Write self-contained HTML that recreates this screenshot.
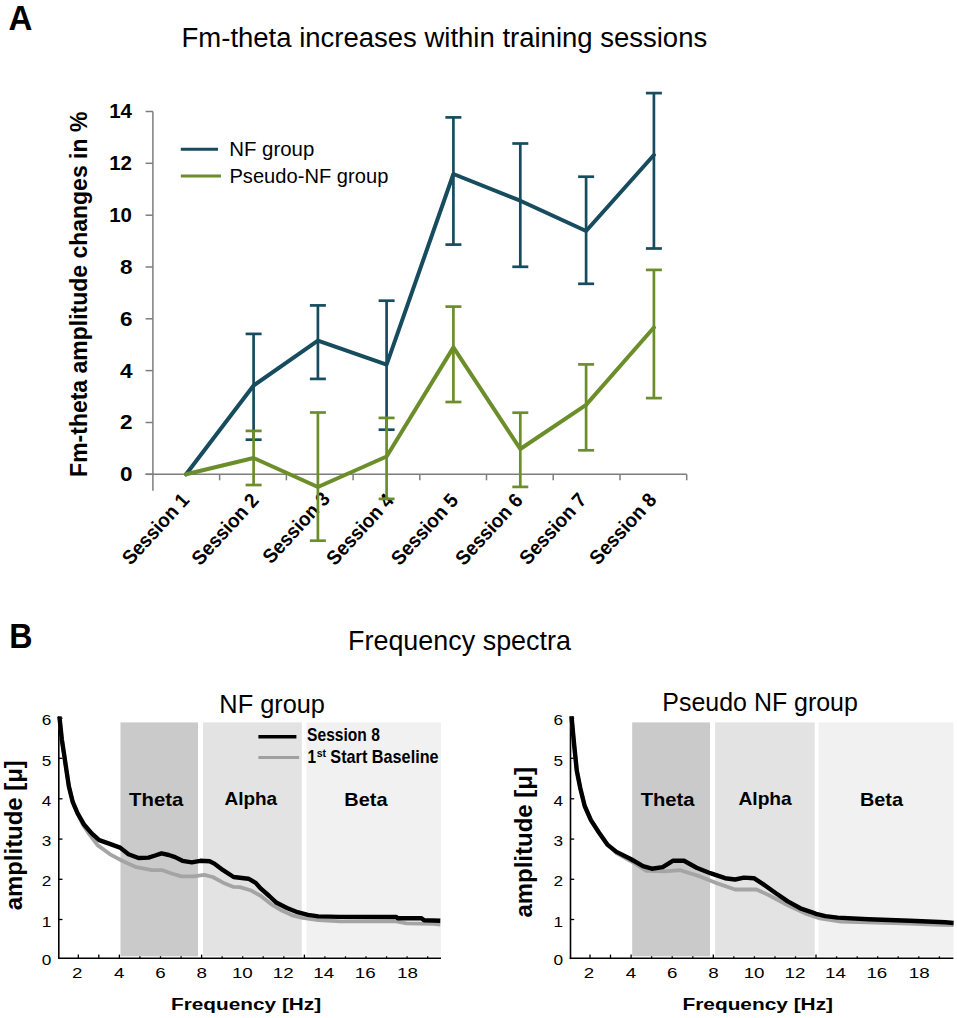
<!DOCTYPE html><html><head><meta charset="utf-8"><style>html,body{margin:0;padding:0;background:#fff;width:957px;height:1018px;overflow:hidden}svg{display:block}text{font-family:"Liberation Sans",sans-serif}</style></head><body>
<svg width="957" height="1018" viewBox="0 0 957 1018">
<text id="A" transform="translate(8.38,30.00) scale(0.9558,1)" font-size="34.60" font-weight="bold">A</text>
<text id="titleA" transform="translate(181.53,47.31) scale(0.9894,1)" font-size="27.80">Fm-theta increases within training sessions</text>
<g stroke="#7d7d7d" stroke-width="1.5" fill="none">
<line x1="152.9" y1="111.5" x2="152.9" y2="490.8"/>
<line x1="145.6" y1="474.3" x2="152.9" y2="474.3"/>
<line x1="145.6" y1="422.5" x2="152.9" y2="422.5"/>
<line x1="145.6" y1="370.6" x2="152.9" y2="370.6"/>
<line x1="145.6" y1="318.8" x2="152.9" y2="318.8"/>
<line x1="145.6" y1="267.0" x2="152.9" y2="267.0"/>
<line x1="145.6" y1="215.2" x2="152.9" y2="215.2"/>
<line x1="145.6" y1="163.3" x2="152.9" y2="163.3"/>
<line x1="145.6" y1="111.5" x2="152.9" y2="111.5"/>
<line x1="145.6" y1="474.3" x2="686.7" y2="474.3"/>
<line x1="219.6" y1="474.3" x2="219.6" y2="480.3"/>
<line x1="286.4" y1="474.3" x2="286.4" y2="480.3"/>
<line x1="353.1" y1="474.3" x2="353.1" y2="480.3"/>
<line x1="419.8" y1="474.3" x2="419.8" y2="480.3"/>
<line x1="486.5" y1="474.3" x2="486.5" y2="480.3"/>
<line x1="553.2" y1="474.3" x2="553.2" y2="480.3"/>
<line x1="620.0" y1="474.3" x2="620.0" y2="480.3"/>
<line x1="686.7" y1="474.3" x2="686.7" y2="480.3"/>
</g>
<text id="tA0" transform="translate(132.52,481.20) scale(1.0984,1)" font-size="20.50" font-weight="bold" text-anchor="end">0</text>
<text id="tA2" transform="translate(132.52,429.37) scale(1.0984,1)" font-size="20.50" font-weight="bold" text-anchor="end">2</text>
<text id="tA4" transform="translate(132.52,377.54) scale(1.0984,1)" font-size="20.50" font-weight="bold" text-anchor="end">4</text>
<text id="tA6" transform="translate(132.52,325.71) scale(1.0984,1)" font-size="20.50" font-weight="bold" text-anchor="end">6</text>
<text id="tA8" transform="translate(132.52,273.89) scale(1.0984,1)" font-size="20.50" font-weight="bold" text-anchor="end">8</text>
<text id="tA10" transform="translate(131.97,221.86) scale(0.9995,1)" font-size="20.50" font-weight="bold" text-anchor="end">10</text>
<text id="tA12" transform="translate(131.97,170.03) scale(0.9995,1)" font-size="20.50" font-weight="bold" text-anchor="end">12</text>
<text id="tA14" transform="translate(131.97,118.20) scale(0.9995,1)" font-size="20.50" font-weight="bold" text-anchor="end">14</text>
<text id="ylabA" transform="translate(86.51,476.90) rotate(-90) scale(0.9465,1)" font-size="24.30" font-weight="bold">Fm-theta amplitude changes in %</text>
<line x1="180.8" y1="149.2" x2="218" y2="149.2" stroke="#174c5f" stroke-width="3"/>
<line x1="180.8" y1="176.1" x2="221" y2="176.1" stroke="#6b8e2a" stroke-width="3"/>
<text id="legA1" transform="translate(229.25,156.46) scale(1.0009,1)" font-size="20.40">NF group</text>
<text id="legA2" transform="translate(229.41,183.35) scale(0.9874,1)" font-size="20.40">Pseudo-NF group</text>
<text id="sess1" transform="translate(190.37,500.92) rotate(-47.5) scale(0.9473,1)" font-size="20.00" font-weight="bold" text-anchor="end">Session 1</text>
<text id="sess2" transform="translate(259.97,501.22) rotate(-47.5) scale(0.9473,1)" font-size="20.00" font-weight="bold" text-anchor="end">Session 2</text>
<text id="sess3" transform="translate(331.07,499.62) rotate(-47.5) scale(0.9473,1)" font-size="20.00" font-weight="bold" text-anchor="end">Session 3</text>
<text id="sess4" transform="translate(394.77,501.22) rotate(-47.5) scale(0.9473,1)" font-size="20.00" font-weight="bold" text-anchor="end">Session 4</text>
<text id="sess5" transform="translate(459.37,501.22) rotate(-47.5) scale(0.9473,1)" font-size="20.00" font-weight="bold" text-anchor="end">Session 5</text>
<text id="sess6" transform="translate(523.77,501.22) rotate(-47.5) scale(0.9473,1)" font-size="20.00" font-weight="bold" text-anchor="end">Session 6</text>
<text id="sess7" transform="translate(587.67,500.72) rotate(-47.5) scale(0.9473,1)" font-size="20.00" font-weight="bold" text-anchor="end">Session 7</text>
<text id="sess8" transform="translate(657.67,500.72) rotate(-47.5) scale(0.9473,1)" font-size="20.00" font-weight="bold" text-anchor="end">Session 8</text>
<g stroke="#174c5f" stroke-width="2.7" fill="none">
<line x1="253.6" y1="333.9" x2="253.6" y2="439.7"/>
<line x1="245.6" y1="333.9" x2="261.6" y2="333.9"/>
<line x1="245.6" y1="439.7" x2="261.6" y2="439.7"/>
<line x1="317.9" y1="305.4" x2="317.9" y2="378.9"/>
<line x1="309.9" y1="305.4" x2="325.9" y2="305.4"/>
<line x1="309.9" y1="378.9" x2="325.9" y2="378.9"/>
<line x1="386.6" y1="300.7" x2="386.6" y2="429.7"/>
<line x1="378.6" y1="300.7" x2="394.6" y2="300.7"/>
<line x1="378.6" y1="429.7" x2="394.6" y2="429.7"/>
<line x1="453.4" y1="117.4" x2="453.4" y2="244.6"/>
<line x1="445.4" y1="117.4" x2="461.4" y2="117.4"/>
<line x1="445.4" y1="244.6" x2="461.4" y2="244.6"/>
<line x1="520.3" y1="143.5" x2="520.3" y2="266.8"/>
<line x1="512.3" y1="143.5" x2="528.3" y2="143.5"/>
<line x1="512.3" y1="266.8" x2="528.3" y2="266.8"/>
<line x1="586.1" y1="176.7" x2="586.1" y2="283.8"/>
<line x1="578.1" y1="176.7" x2="594.1" y2="176.7"/>
<line x1="578.1" y1="283.8" x2="594.1" y2="283.8"/>
<line x1="653.9" y1="93.1" x2="653.9" y2="248.5"/>
<line x1="645.9" y1="93.1" x2="661.9" y2="93.1"/>
<line x1="645.9" y1="248.5" x2="661.9" y2="248.5"/>
</g>
<g stroke="#6b8e2a" stroke-width="2.7" fill="none">
<line x1="253.6" y1="430.9" x2="253.6" y2="485.0"/>
<line x1="245.6" y1="430.9" x2="261.6" y2="430.9"/>
<line x1="245.6" y1="485.0" x2="261.6" y2="485.0"/>
<line x1="317.9" y1="412.5" x2="317.9" y2="540.7"/>
<line x1="309.9" y1="412.5" x2="325.9" y2="412.5"/>
<line x1="309.9" y1="540.7" x2="325.9" y2="540.7"/>
<line x1="386.6" y1="417.9" x2="386.6" y2="498.9"/>
<line x1="378.6" y1="417.9" x2="394.6" y2="417.9"/>
<line x1="378.6" y1="498.9" x2="394.6" y2="498.9"/>
<line x1="453.4" y1="306.6" x2="453.4" y2="402.0"/>
<line x1="445.4" y1="306.6" x2="461.4" y2="306.6"/>
<line x1="445.4" y1="402.0" x2="461.4" y2="402.0"/>
<line x1="520.3" y1="412.7" x2="520.3" y2="486.9"/>
<line x1="512.3" y1="412.7" x2="528.3" y2="412.7"/>
<line x1="512.3" y1="486.9" x2="528.3" y2="486.9"/>
<line x1="586.1" y1="364.4" x2="586.1" y2="450.3"/>
<line x1="578.1" y1="364.4" x2="594.1" y2="364.4"/>
<line x1="578.1" y1="450.3" x2="594.1" y2="450.3"/>
<line x1="653.9" y1="269.9" x2="653.9" y2="398.1"/>
<line x1="645.9" y1="269.9" x2="661.9" y2="269.9"/>
<line x1="645.9" y1="398.1" x2="661.9" y2="398.1"/>
</g>
<polyline points="186.1,474.3 253.6,385.5 317.9,340.6 386.6,364.6 453.4,174.0 520.3,200.7 586.1,231.0 653.9,155.0" stroke="#174c5f" stroke-width="4" fill="none" stroke-linejoin="round" stroke-linecap="round"/>
<polyline points="186.1,474.3 253.6,458.0 317.9,487.0 386.6,456.5 453.4,347.4 520.3,449.0 586.1,404.9 653.9,327.5" stroke="#6b8e2a" stroke-width="4" fill="none" stroke-linejoin="round" stroke-linecap="round"/>
<text id="B" transform="translate(9.32,647.60) scale(0.9364,1)" font-size="34.40" font-weight="bold">B</text>
<text id="freqSpec" transform="translate(348.02,649.71) scale(0.9516,1)" font-size="28.30">Frequency spectra</text>
<g stroke="#000" stroke-width="1.3">
<line x1="78.3" y1="958" x2="78.3" y2="954.6"/>
<line x1="98.8" y1="958" x2="98.8" y2="954.6"/>
<line x1="119.4" y1="958" x2="119.4" y2="954.6"/>
<line x1="139.9" y1="958" x2="139.9" y2="954.6"/>
<line x1="160.5" y1="958" x2="160.5" y2="954.6"/>
<line x1="181.1" y1="958" x2="181.1" y2="954.6"/>
<line x1="201.6" y1="958" x2="201.6" y2="954.6"/>
<line x1="222.1" y1="958" x2="222.1" y2="954.6"/>
<line x1="242.7" y1="958" x2="242.7" y2="954.6"/>
<line x1="263.2" y1="958" x2="263.2" y2="954.6"/>
<line x1="283.8" y1="958" x2="283.8" y2="954.6"/>
<line x1="304.4" y1="958" x2="304.4" y2="954.6"/>
<line x1="324.9" y1="958" x2="324.9" y2="954.6"/>
<line x1="345.5" y1="958" x2="345.5" y2="954.6"/>
<line x1="366.0" y1="958" x2="366.0" y2="954.6"/>
<line x1="386.6" y1="958" x2="386.6" y2="954.6"/>
<line x1="407.1" y1="958" x2="407.1" y2="954.6"/>
<line x1="427.7" y1="958" x2="427.7" y2="954.6"/>
<line x1="59" y1="919.5" x2="62.5" y2="919.5"/>
<line x1="59" y1="879.3" x2="62.5" y2="879.3"/>
<line x1="59" y1="839.1" x2="62.5" y2="839.1"/>
<line x1="59" y1="798.8" x2="62.5" y2="798.8"/>
<line x1="59" y1="758.3" x2="62.5" y2="758.3"/>
<line x1="59" y1="718.3" x2="62.5" y2="718.3"/>
</g>
<rect x="120.5" y="722.4" width="77.5" height="233.9" fill="#cacaca"/>
<rect x="203.0" y="722.4" width="98.8" height="233.9" fill="#e3e3e3"/>
<rect x="306.5" y="722.4" width="134.5" height="233.9" fill="#f1f1f1"/>
<line x1="58.8" y1="716" x2="58.8" y2="959.1" stroke="#000" stroke-width="1.6"/>
<line x1="58" y1="958.3" x2="441" y2="958.3" stroke="#000" stroke-width="1.6"/>
<text id="tB1y0" transform="translate(51.37,965.41) scale(1.1805,1)" font-size="14.60" font-family='"Liberation Mono",monospace' text-anchor="end">0</text>
<text id="tB1y1" transform="translate(51.37,926.71) scale(1.1805,1)" font-size="14.60" font-family='"Liberation Mono",monospace' text-anchor="end">1</text>
<text id="tB1y2" transform="translate(51.37,886.06) scale(1.1805,1)" font-size="14.60" font-family='"Liberation Mono",monospace' text-anchor="end">2</text>
<text id="tB1y3" transform="translate(51.37,845.66) scale(1.1805,1)" font-size="14.60" font-family='"Liberation Mono",monospace' text-anchor="end">3</text>
<text id="tB1y4" transform="translate(51.37,805.61) scale(1.1805,1)" font-size="14.60" font-family='"Liberation Mono",monospace' text-anchor="end">4</text>
<text id="tB1y5" transform="translate(51.37,765.56) scale(1.1805,1)" font-size="14.60" font-family='"Liberation Mono",monospace' text-anchor="end">5</text>
<text id="tB1y6" transform="translate(51.37,724.96) scale(1.1805,1)" font-size="14.60" font-family='"Liberation Mono",monospace' text-anchor="end">6</text>
<text id="tB1x2" transform="translate(77.16,978.40) scale(1.2856,1)" font-size="14.60" font-family='"Liberation Mono",monospace' text-anchor="middle">2</text>
<text id="tB1x4" transform="translate(119.16,978.40) scale(1.2856,1)" font-size="14.60" font-family='"Liberation Mono",monospace' text-anchor="middle">4</text>
<text id="tB1x6" transform="translate(160.56,978.40) scale(1.2856,1)" font-size="14.60" font-family='"Liberation Mono",monospace' text-anchor="middle">6</text>
<text id="tB1x8" transform="translate(201.66,978.40) scale(1.2856,1)" font-size="14.60" font-family='"Liberation Mono",monospace' text-anchor="middle">8</text>
<text id="tB1x10" transform="translate(242.36,978.40) scale(1.2856,1)" font-size="14.60" font-family='"Liberation Mono",monospace' text-anchor="middle">10</text>
<text id="tB1x12" transform="translate(283.26,978.40) scale(1.2856,1)" font-size="14.60" font-family='"Liberation Mono",monospace' text-anchor="middle">12</text>
<text id="tB1x14" transform="translate(323.76,978.40) scale(1.2856,1)" font-size="14.60" font-family='"Liberation Mono",monospace' text-anchor="middle">14</text>
<text id="tB1x16" transform="translate(365.16,978.40) scale(1.2856,1)" font-size="14.60" font-family='"Liberation Mono",monospace' text-anchor="middle">16</text>
<text id="tB1x18" transform="translate(407.46,978.40) scale(1.2856,1)" font-size="14.60" font-family='"Liberation Mono",monospace' text-anchor="middle">18</text>
<text id="thetaB1" transform="translate(129.07,805.80) scale(1.1567,1)" font-size="17.60" font-weight="bold">Theta</text>
<text id="alphaB1" transform="translate(224.45,805.21) scale(1.0783,1)" font-size="17.60" font-weight="bold">Alpha</text>
<text id="betaB1" transform="translate(344.29,805.80) scale(1.1330,1)" font-size="17.60" font-weight="bold">Beta</text>
<text id="freqB1" transform="translate(170.96,1010.00) scale(1.2092,1)" font-size="17.20" font-weight="bold">Frequency [Hz]</text>
<polyline points="59.4,716.5 61.8,739.3 64.2,755.0 66.5,770.8 68.9,786.5 72.8,802.2 77.5,813.2 83.0,825.0 89.2,834.2 97.5,845.1 110.1,854.3 122.6,861.0 135.2,866.8 151.9,870.2 162.5,870.2 170.9,873.3 181.3,876.4 193.9,876.4 204.3,874.9 212.7,877.0 223.1,882.7 233.6,886.9 240.0,887.1 250.4,890.2 260.9,896.0 271.3,904.3 281.8,910.6 292.2,915.3 302.7,917.9 318.4,920.0 340.0,921.4 396.4,921.4 406.5,923.3 434.0,923.9 440.3,924.5" stroke="#a4a4a4" stroke-width="3.8" fill="none" stroke-linejoin="round"/>
<polyline points="59.4,716.5 61.8,739.3 64.2,755.0 66.5,770.8 68.9,786.5 72.8,802.2 77.5,813.2 83.8,824.2 91.7,833.4 99.2,840.1 108.4,843.4 120.1,847.6 128.5,854.3 138.5,858.0 148.5,857.6 155.2,855.5 161.5,853.4 168.8,855.0 175.1,857.1 182.4,860.8 191.8,862.3 200.2,860.8 209.6,861.3 214.8,863.9 223.1,870.2 233.6,877.0 242.0,878.0 248.4,878.7 255.7,882.9 260.9,888.7 269.3,896.0 276.6,902.8 287.0,908.0 297.5,912.2 307.9,914.8 318.4,916.4 339.3,916.9 396.4,917.0 397.7,918.3 421.5,918.3 424.0,920.2 440.3,920.8" stroke="#000" stroke-width="4.4" fill="none" stroke-linejoin="round"/>
<text id="nfB1" transform="translate(219.34,712.73) scale(0.9710,1)" font-size="26.10">NF group</text>
<text id="ampB1" transform="translate(21.67,910.32) rotate(-90) scale(0.9967,1)" font-size="24.00" font-weight="bold">amplitude [μ]</text>
<g stroke="#000" stroke-width="1.3">
<line x1="590.0" y1="958" x2="590.0" y2="954.6"/>
<line x1="610.5" y1="958" x2="610.5" y2="954.6"/>
<line x1="631.1" y1="958" x2="631.1" y2="954.6"/>
<line x1="651.6" y1="958" x2="651.6" y2="954.6"/>
<line x1="672.2" y1="958" x2="672.2" y2="954.6"/>
<line x1="692.8" y1="958" x2="692.8" y2="954.6"/>
<line x1="713.3" y1="958" x2="713.3" y2="954.6"/>
<line x1="733.8" y1="958" x2="733.8" y2="954.6"/>
<line x1="754.4" y1="958" x2="754.4" y2="954.6"/>
<line x1="775.0" y1="958" x2="775.0" y2="954.6"/>
<line x1="795.5" y1="958" x2="795.5" y2="954.6"/>
<line x1="816.0" y1="958" x2="816.0" y2="954.6"/>
<line x1="836.6" y1="958" x2="836.6" y2="954.6"/>
<line x1="857.2" y1="958" x2="857.2" y2="954.6"/>
<line x1="877.7" y1="958" x2="877.7" y2="954.6"/>
<line x1="898.2" y1="958" x2="898.2" y2="954.6"/>
<line x1="918.8" y1="958" x2="918.8" y2="954.6"/>
<line x1="939.4" y1="958" x2="939.4" y2="954.6"/>
<line x1="570.7" y1="919.5" x2="574.2" y2="919.5"/>
<line x1="570.7" y1="879.3" x2="574.2" y2="879.3"/>
<line x1="570.7" y1="839.1" x2="574.2" y2="839.1"/>
<line x1="570.7" y1="798.8" x2="574.2" y2="798.8"/>
<line x1="570.7" y1="758.3" x2="574.2" y2="758.3"/>
<line x1="570.7" y1="718.3" x2="574.2" y2="718.3"/>
</g>
<rect x="632.2" y="722.4" width="77.8" height="233.9" fill="#cacaca"/>
<rect x="715.1" y="722.4" width="99.6" height="233.9" fill="#e3e3e3"/>
<rect x="818.5" y="722.4" width="134.9" height="233.9" fill="#f1f1f1"/>
<line x1="570.5" y1="716" x2="570.5" y2="959.1" stroke="#000" stroke-width="1.6"/>
<line x1="569.7" y1="958.3" x2="953.4" y2="958.3" stroke="#000" stroke-width="1.6"/>
<text id="tB2y0" transform="translate(563.07,965.41) scale(1.1805,1)" font-size="14.60" font-family='"Liberation Mono",monospace' text-anchor="end">0</text>
<text id="tB2y1" transform="translate(563.07,926.71) scale(1.1805,1)" font-size="14.60" font-family='"Liberation Mono",monospace' text-anchor="end">1</text>
<text id="tB2y2" transform="translate(563.07,886.06) scale(1.1805,1)" font-size="14.60" font-family='"Liberation Mono",monospace' text-anchor="end">2</text>
<text id="tB2y3" transform="translate(563.07,845.66) scale(1.1805,1)" font-size="14.60" font-family='"Liberation Mono",monospace' text-anchor="end">3</text>
<text id="tB2y4" transform="translate(563.07,805.61) scale(1.1805,1)" font-size="14.60" font-family='"Liberation Mono",monospace' text-anchor="end">4</text>
<text id="tB2y5" transform="translate(563.07,765.56) scale(1.1805,1)" font-size="14.60" font-family='"Liberation Mono",monospace' text-anchor="end">5</text>
<text id="tB2y6" transform="translate(563.07,724.96) scale(1.1805,1)" font-size="14.60" font-family='"Liberation Mono",monospace' text-anchor="end">6</text>
<text id="tB2x2" transform="translate(588.86,978.40) scale(1.2856,1)" font-size="14.60" font-family='"Liberation Mono",monospace' text-anchor="middle">2</text>
<text id="tB2x4" transform="translate(630.86,978.40) scale(1.2856,1)" font-size="14.60" font-family='"Liberation Mono",monospace' text-anchor="middle">4</text>
<text id="tB2x6" transform="translate(672.26,978.40) scale(1.2856,1)" font-size="14.60" font-family='"Liberation Mono",monospace' text-anchor="middle">6</text>
<text id="tB2x8" transform="translate(713.36,978.40) scale(1.2856,1)" font-size="14.60" font-family='"Liberation Mono",monospace' text-anchor="middle">8</text>
<text id="tB2x10" transform="translate(754.06,978.40) scale(1.2856,1)" font-size="14.60" font-family='"Liberation Mono",monospace' text-anchor="middle">10</text>
<text id="tB2x12" transform="translate(794.96,978.40) scale(1.2856,1)" font-size="14.60" font-family='"Liberation Mono",monospace' text-anchor="middle">12</text>
<text id="tB2x14" transform="translate(835.46,978.40) scale(1.2856,1)" font-size="14.60" font-family='"Liberation Mono",monospace' text-anchor="middle">14</text>
<text id="tB2x16" transform="translate(876.86,978.40) scale(1.2856,1)" font-size="14.60" font-family='"Liberation Mono",monospace' text-anchor="middle">16</text>
<text id="tB2x18" transform="translate(919.16,978.40) scale(1.2856,1)" font-size="14.60" font-family='"Liberation Mono",monospace' text-anchor="middle">18</text>
<text id="thetaB2" transform="translate(640.66,805.80) scale(1.1484,1)" font-size="17.60" font-weight="bold">Theta</text>
<text id="alphaB2" transform="translate(738.45,805.21) scale(1.0913,1)" font-size="17.60" font-weight="bold">Alpha</text>
<text id="betaB2" transform="translate(859.96,805.80) scale(1.1307,1)" font-size="17.60" font-weight="bold">Beta</text>
<text id="freqB2" transform="translate(682.47,1010.00) scale(1.2120,1)" font-size="17.20" font-weight="bold">Frequency [Hz]</text>
<polyline points="571.5,716.3 574.1,744.2 576.8,770.7 580.3,788.3 584.7,806.0 590.9,820.1 598.9,832.5 607.7,844.9 616.5,853.0 630.7,861.0 646.4,870.8 665.2,871.4 680.3,870.2 700.0,876.4 718.8,883.9 735.1,889.5 756.4,889.5 769.0,895.2 787.8,905.2 806.6,914.0 820.0,918.4 840.7,921.5 902.2,923.3 940.6,924.9 953.6,925.0" stroke="#a4a4a4" stroke-width="3.8" fill="none" stroke-linejoin="round"/>
<polyline points="571.5,716.3 574.1,744.2 576.8,770.7 580.3,788.3 584.7,806.0 590.9,820.1 598.9,832.5 607.7,844.9 616.5,851.9 630.7,859.0 643.0,866.1 651.9,868.7 662.7,867.1 672.8,860.8 684.0,860.8 696.6,867.7 709.1,872.7 712.5,873.9 725.1,878.2 735.1,879.5 743.9,877.6 753.9,878.2 762.7,883.9 775.2,892.7 787.8,901.4 800.3,908.3 812.9,912.7 816.1,913.8 825.4,916.1 837.6,917.6 868.4,919.2 909.8,920.7 945.2,922.2 953.6,923.0" stroke="#000" stroke-width="4.4" fill="none" stroke-linejoin="round"/>
<text id="pnfB2" transform="translate(662.36,711.20) scale(0.9600,1)" font-size="26.00">Pseudo NF group</text>
<text id="ampB2" transform="translate(532.27,917.55) rotate(-90) scale(0.9991,1)" font-size="24.00" font-weight="bold">amplitude [μ]</text>
<line x1="258.4" y1="736.7" x2="296.4" y2="736.7" stroke="#000" stroke-width="3.5"/>
<line x1="258.4" y1="757.6" x2="299.1" y2="757.6" stroke="#a0a0a0" stroke-width="3"/>
<text id="legB1" transform="translate(307.11,740.60) scale(0.8857,1)" font-size="17.60" font-weight="bold">Session 8</text>
<text id="legB2a" transform="translate(307.46,762.80) scale(0.8767,1)" font-size="17.60" font-weight="bold">1</text>
<text id="legB2b" transform="translate(316.68,757.42) scale(0.9795,1)" font-size="10.80" font-weight="bold">st</text>
<text id="legB2c" transform="translate(330.35,762.60) scale(0.9230,1)" font-size="17.60" font-weight="bold">Start Baseline</text>
</svg></body></html>
